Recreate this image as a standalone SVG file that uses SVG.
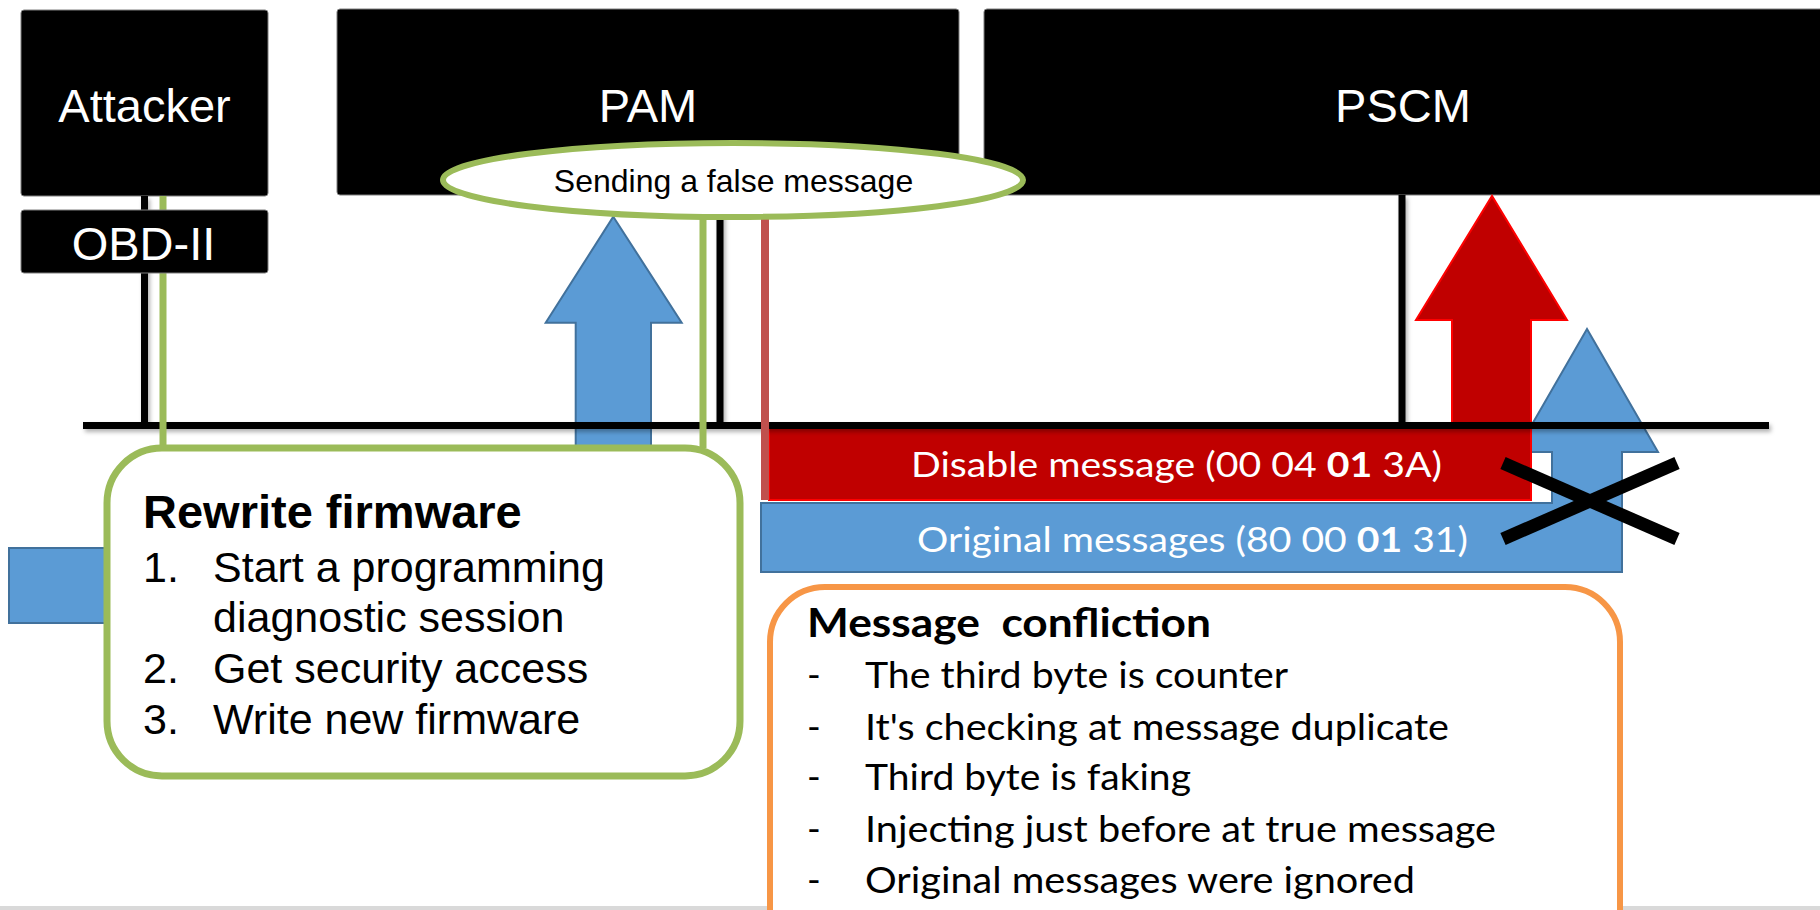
<svg xmlns="http://www.w3.org/2000/svg" width="1820" height="910" viewBox="0 0 1820 910">
<style>
.box{fill:#000;stroke:#7f7f7f;stroke-width:1}
.boxt{font-family:"Liberation Sans",Arial,sans-serif;font-size:47px;fill:#fff;text-anchor:middle}
.blue{fill:#5B9BD5;stroke:#41719C;stroke-width:2}
.red{fill:#C00000;stroke:#FF0000;stroke-width:2}
.bar{font-family:Lato,"Open Sans",sans-serif;font-size:35px;fill:#fff;text-anchor:middle}
.blk{stroke:#000;stroke-width:7;fill:none}
.grn{stroke:#9BBB59;stroke-width:7;fill:none}
.arial{font-family:"Liberation Sans",Arial,sans-serif;fill:#000}
.cal{font-family:Lato,"Open Sans",sans-serif;fill:#000}
</style>
<defs>
<filter id="sh" filterUnits="userSpaceOnUse" x="0" y="0" width="1820" height="910">
<feDropShadow dx="2" dy="3" stdDeviation="2" flood-color="#000" flood-opacity="0.3"/>
</filter>
</defs>
<rect x="0" y="906" width="1820" height="4" fill="#d9d9d9"/>
<g id="attacker">
<rect class="box" x="21" y="10" width="247" height="186" rx="3"/>
<text class="boxt" x="144.5" y="122">Attacker</text>
</g>
<g id="pam">
<rect class="box" x="337" y="9" width="622" height="186" rx="3"/>
<text class="boxt" x="648" y="122">PAM</text>
</g>
<g id="pscm">
<rect class="box" x="984" y="9" width="840" height="186" rx="3"/>
<text class="boxt" x="1403" y="122">PSCM</text>
</g>
<g id="pam-arrow">
<path class="blue" d="M613.3,216.7 L681.7,322.7 L651,322.7 L651,452 L575.7,452 L575.7,322.7 L545.7,322.7 Z"/>
</g>
<g id="left-block">
<rect class="blue" x="9" y="548" width="140" height="75"/>
</g>
<g id="original-messages">
<path class="blue" d="M761,503 L1552,503 L1552,452 L1516,452 L1587,329 L1658,452 L1622,452 L1622,572 L761,572 Z"/>
<text class="bar" x="1192.5" y="552" textLength="551" lengthAdjust="spacingAndGlyphs">Original messages (80 00 <tspan font-weight="bold">01</tspan> 31)</text>
</g>
<g id="disable-message">
<path class="red" d="M769,428 L1452,428 L1452,320 L1416,320 L1492,196 L1567,320 L1531,320 L1531,500 L769,500 Z"/>
<text class="bar" x="1176.5" y="477" textLength="531" lengthAdjust="spacingAndGlyphs">Disable message (00 04 <tspan font-weight="bold">01</tspan> 3A)</text>
</g>
<g id="connectors">
<g filter="url(#sh)">
<line class="blk" x1="144.5" y1="196" x2="144.5" y2="425"/>
<line class="blk" x1="720" y1="195" x2="720" y2="425"/>
<line class="blk" x1="1402" y1="195" x2="1402" y2="425"/>
<line class="blk" x1="83" y1="425.5" x2="1769" y2="425.5"/>
</g>
<line class="grn" x1="163" y1="196" x2="163" y2="448"/>
<line class="grn" x1="703" y1="216" x2="703" y2="448"/>
<line x1="765" y1="216" x2="765" y2="500" stroke="#C0504D" stroke-width="8"/>
</g>
<g id="obd-ii">
<rect class="box" x="21" y="210" width="247" height="63" rx="3"/>
<text class="boxt" x="143.5" y="260">OBD-II</text>
</g>
<g id="cross">
<line x1="1503" y1="463" x2="1677" y2="539" stroke="#000" stroke-width="13"/>
<line x1="1503" y1="539" x2="1677" y2="463" stroke="#000" stroke-width="13"/>
</g>
<g id="false-message">
<ellipse cx="733" cy="180" rx="290" ry="37" fill="#fff" stroke="#9BBB59" stroke-width="6"/>
<text class="arial" x="733.5" y="192" font-size="32" text-anchor="middle">Sending a false message</text>
</g>
<g id="rewrite-firmware">
<rect x="107" y="448" width="633" height="328" rx="55" fill="#fff" stroke="#9BBB59" stroke-width="7"/>
<text class="arial" x="143" y="528" font-size="47" font-weight="bold">Rewrite firmware</text>
<text class="arial" x="143" y="582" font-size="43">1.</text>
<text class="arial" x="213" y="582" font-size="43">Start a programming</text>
<text class="arial" x="213" y="632" font-size="43">diagnostic session</text>
<text class="arial" x="143" y="683" font-size="43">2.</text>
<text class="arial" x="213" y="683" font-size="43">Get security access</text>
<text class="arial" x="143" y="734" font-size="43">3.</text>
<text class="arial" x="213" y="734" font-size="43">Write new firmware</text>
</g>
<g id="message-confliction">
<rect x="770" y="587" width="850" height="400" rx="55" fill="#fff" stroke="#F79646" stroke-width="6"/>
<text class="cal" x="807" y="637" font-size="41" font-weight="bold" xml:space="preserve" style="white-space:pre" textLength="404" lengthAdjust="spacingAndGlyphs">Message  confliction</text>
<text class="cal" x="807" y="688" font-size="37">-</text>
<text class="cal" x="865" y="688" font-size="37" textLength="423" lengthAdjust="spacingAndGlyphs">The third byte is counter</text>
<text class="cal" x="807" y="740" font-size="37">-</text>
<text class="cal" x="865" y="740" font-size="37" textLength="584" lengthAdjust="spacingAndGlyphs">It's checking at message duplicate</text>
<text class="cal" x="807" y="790" font-size="37">-</text>
<text class="cal" x="865" y="790" font-size="37" textLength="326" lengthAdjust="spacingAndGlyphs">Third byte is faking</text>
<text class="cal" x="807" y="842" font-size="37">-</text>
<text class="cal" x="865" y="842" font-size="37" textLength="631" lengthAdjust="spacingAndGlyphs">Injecting just before at true message</text>
<text class="cal" x="807" y="893" font-size="37">-</text>
<text class="cal" x="865" y="893" font-size="37" textLength="550" lengthAdjust="spacingAndGlyphs">Original messages were ignored</text>
</g>
</svg>
